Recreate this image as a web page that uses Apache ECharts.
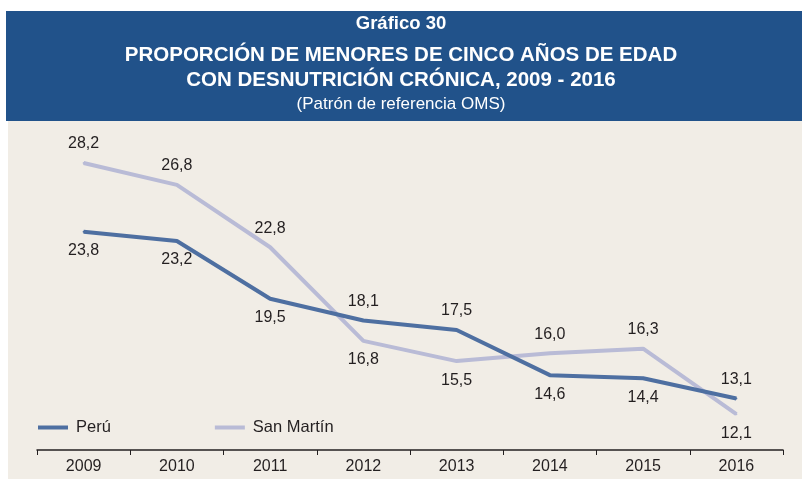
<!DOCTYPE html>
<html>
<head>
<meta charset="utf-8">
<script src="https://cdn.jsdelivr.net/npm/echarts@6/dist/echarts.min.js"></script>
<style>
  html, body { margin: 0; padding: 0; background: #ffffff; }
  #chart { width: 802px; height: 479px; }
</style>
</head>
<body>
<div id="chart"></div>
<script>
// datos
const years = ["2009", "2010", "2011", "2012", "2013", "2014", "2015", "2016"];
const peru = [23.8, 23.2, 19.5, 18.1, 17.5, 14.6, 14.4, 13.1];
const sanMartin = [28.2, 26.8, 22.8, 16.8, 15.5, 16.0, 16.3, 12.1];
// posición de cada etiqueta (arriba / abajo)
const peruLabelPos = ["bottom", "bottom", "bottom", "top", "top", "bottom", "bottom", "top"];
const smLabelPos = ["top", "top", "top", "bottom", "bottom", "top", "top", "bottom"];

const font = "Arial, 'Liberation Sans', sans-serif";

function mkData(vals, pos) {
  return vals.map((v, i) => ({
    value: v,
    label: { show: true, position: pos[i] }
  }));
}

const labelStyle = {
  show: true,
  distance: 10,
  fontSize: 16,
  color: "#231f20",
  fontFamily: font,
  formatter: p => p.value.toFixed(1).replace(".", ",")
};

const chart = echarts.init(document.getElementById("chart"));

const option = {
  backgroundColor: "#ffffff",
  animation: false,
  graphic: [
    { type: "rect", z: -10, shape: { x: 6, y: 11, width: 800, height: 110 }, style: { fill: "#21528a" } },
    { type: "rect", z: -10, shape: { x: 8, y: 121, width: 800, height: 360 }, style: { fill: "#f1ede6" } }
  ],
  title: [
    { text: "Gráfico 30", left: "center", top: 9, textStyle: { color: "#fff", fontSize: 18.5, fontWeight: "bold", fontFamily: font } },
    { text: "PROPORCIÓN DE MENORES DE CINCO AÑOS DE EDAD", left: "center", top: 40, textStyle: { color: "#fff", fontSize: 20.5, fontWeight: "bold", fontFamily: font } },
    { text: "CON DESNUTRICIÓN CRÓNICA, 2009 - 2016", left: "center", top: 65, textStyle: { color: "#fff", fontSize: 20.5, fontWeight: "bold", fontFamily: font } },
    { text: "(Patrón de referencia OMS)", left: "center", top: 91, textStyle: { color: "#fff", fontSize: 17, fontWeight: "normal", fontFamily: font } }
  ],
  legend: {
    left: 33,
    top: 414,
    itemWidth: 30,
    itemHeight: 4,
    itemGap: 104,
    icon: "rect",
    textStyle: { fontSize: 16.5, color: "#231f20", fontFamily: font, padding: [0, 0, 0, 3] },
    data: ["Perú", "San Martín"]
  },
  grid: { left: 37, right: 19, top: 135, bottom: 29 },
  xAxis: {
    type: "category",
    data: years,
    boundaryGap: true,
    axisLine: { lineStyle: { color: "#231f20", width: 1.5 } },
    axisTick: { show: true, length: 5, lineStyle: { color: "#231f20" } },
    axisLabel: { fontSize: 16, color: "#231f20", fontFamily: font, margin: 9 }
  },
  yAxis: {
    type: "value",
    min: 9.8,
    max: 30,
    show: false,
    splitLine: { show: false }
  },
  series: [
    {
      name: "Perú",
      type: "line",
      data: mkData(peru, peruLabelPos),
      symbol: "circle",
      symbolSize: 2,
      showSymbol: true,
      color: "#4e6fa1",
      lineStyle: { width: 4, color: "#4e6fa1" },
      label: labelStyle,
      labelLayout: { hideOverlap: false },
      z: 3
    },
    {
      name: "San Martín",
      type: "line",
      data: mkData(sanMartin, smLabelPos),
      symbol: "circle",
      symbolSize: 2,
      showSymbol: true,
      color: "#b9bbd6",
      lineStyle: { width: 4, color: "#b9bbd6" },
      label: labelStyle,
      labelLayout: { hideOverlap: false },
      z: 2
    }
  ]
};

chart.setOption(option);
</script>
</body>
</html>
